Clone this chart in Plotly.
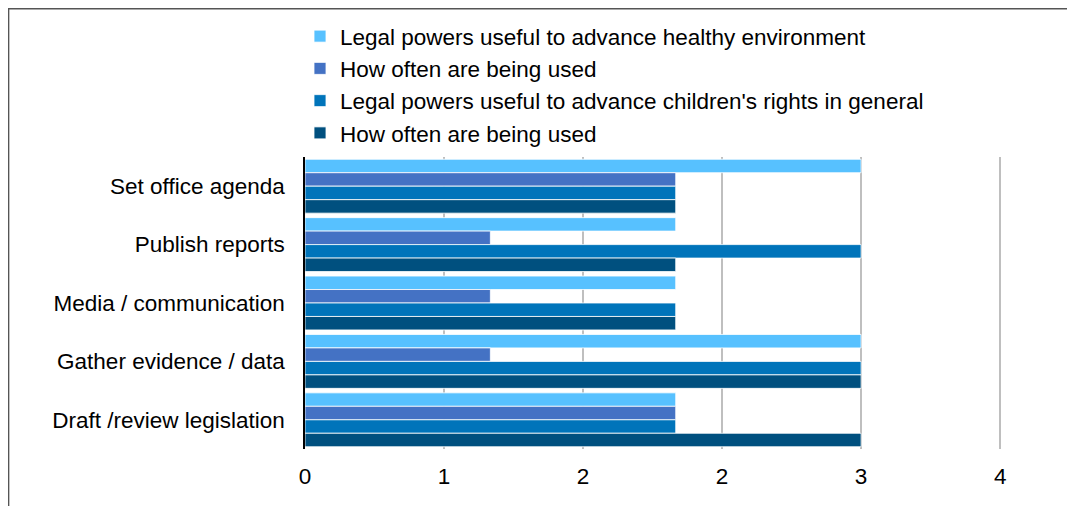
import plotly.graph_objects as go

categories = ["Set office agenda", "Publish reports", "Media / communication",
              "Gather evidence / data", "Draft /review legislation"]

series_names = [
    "Legal powers useful to advance healthy environment",
    "How often are being used",
    "Legal powers useful to advance children's rights in general",
    "How often are being used",
]
env_useful = [3, 2, 2, 3, 2]
env_used = [2, 1, 1, 1, 2]
child_useful = [2, 3, 2, 3, 2]
child_used = [2, 2, 2, 3, 3]

x_tick_vals = [0, 0.75, 1.5, 2.25, 3.0, 3.75]
x_tick_text = ["0", "1", "2", "2", "3", "4"]

colors = ["#57C1FF", "#4472C4", "#0074BA", "#00507F"]
series_values = [env_useful, env_used, child_useful, child_used]

fig = go.Figure()
for name, vals, col in zip(series_names, series_values, colors):
    fig.add_trace(go.Bar(
        y=categories, x=vals, name=name, orientation="h",
        marker=dict(color=col, line=dict(color="rgba(255,255,255,0.8)", width=1)),
    ))

OFF = 8  # page body margin
W, H = 1067, 498
L, T = 305 - OFF, 157 - OFF
pw, ph = 697, 292
R, B = W - L - pw, H - T - ph

def px_x(page_x):
    return (page_x - OFF - L) / pw

def px_y(page_y):
    return 1 + (T - (page_y - OFF)) / ph

FS = 22.5

fig.update_layout(
    width=W, height=H,
    margin=dict(l=L, r=R, t=T, b=B, autoexpand=False),
    barmode="group", bargap=0.077, bargroupgap=0,
    paper_bgcolor="white", plot_bgcolor="white",
    font=dict(family="Liberation Sans, Arial, sans-serif", size=FS, color="black"),
    showlegend=True,
    legend=dict(
        orientation="v", x=px_x(300), xanchor="left", y=px_y(15), yanchor="top",
        font=dict(size=FS, color="black"), traceorder="normal",
        bgcolor="rgba(0,0,0,0)", itemwidth=30,
    ),
    xaxis=dict(
        range=[0, 3.76], tickvals=x_tick_vals, ticktext=x_tick_text,
        showgrid=True, gridcolor="#BFBFBF", gridwidth=1.5,
        zeroline=False, showline=False, ticks="",
        ticklabelstandoff=11, tickfont=dict(size=FS, color="black"),
    ),
    yaxis=dict(
        autorange="reversed", showgrid=False, zeroline=False,
        showline=True, linecolor="black", linewidth=1.5, ticks="",
        ticklabelstandoff=14, tickfont=dict(size=FS, color="black"),
    ),
    shapes=[dict(
        type="rect", xref="paper", yref="paper",
        x0=px_x(8.6), x1=px_x(1300), y0=px_y(800), y1=px_y(8.7),
        line=dict(color="#555555", width=1.5), fillcolor="rgba(0,0,0,0)",
        layer="above",
    )],
)

fig.write_html("out.html")
